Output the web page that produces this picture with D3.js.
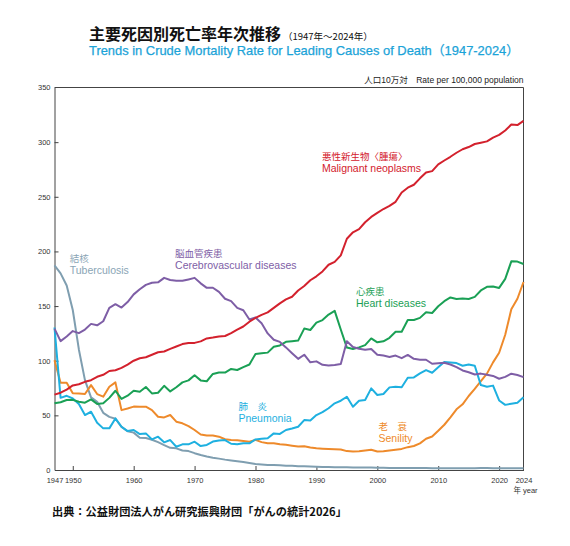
<!DOCTYPE html>
<html>
<head>
<meta charset="UTF-8"/>
<title>主要死因別死亡率年次推移</title>
<script src="https://d3js.org/d3.v7.min.js"></script>
<style>
body { margin: 0; background: #fff; }
svg { font-family: "Liberation Sans", Arial, "Noto Sans CJK JP", sans-serif; }
.jp { font-family: "Noto Sans CJK JP", sans-serif; }
</style>
</head>
<body>
<div id="chart"></div>
<script>

// DATA (rate per 100,000 population), one value per year 1947..2024
var firstYear = 1947, lastYear = 2024;
var years = d3.range(firstYear, lastYear + 1);

var malignant = [69.0, 70.7, 73.6, 77.4, 78.5, 80.7, 82.2, 85.3, 87.1, 90.6,
  91.3, 93.5, 96.5, 100.0, 102.3, 103.2, 105.5, 107.7, 108.4, 110.8,
  113.0, 115.2, 116.3, 116.3, 117.7, 120.4, 121.2, 122.2, 122.6, 125.3,
  128.4, 131.3, 135.7, 139.1, 142.0, 144.2, 148.3, 152.5, 156.1, 158.5,
  164.2, 168.4, 173.6, 177.2, 181.7, 187.8, 190.4, 196.4, 211.6, 217.5,
  220.4, 226.7, 231.6, 235.2, 238.8, 241.7, 245.4, 253.9, 258.3, 261.0,
  266.9, 272.3, 273.5, 279.7, 283.2, 286.6, 290.3, 293.5, 295.5, 298.3,
  299.5, 300.7, 304.2, 306.6, 310.7, 316.1, 315.6, 319.5];

var cerebro = [129.4, 117.9, 122.2, 127.1, 125.2, 128.5, 133.7, 132.4, 136.1, 148.4,
  151.7, 148.6, 153.7, 160.7, 165.4, 169.4, 171.4, 171.7, 175.8, 173.8,
  173.1, 173.1, 174.4, 175.8, 170.8, 166.7, 166.8, 163.0, 156.7, 154.5,
  148.4, 146.2, 137.7, 139.5, 134.3, 125.0, 119.2, 117.2, 112.2, 106.9,
  101.7, 105.5, 98.5, 99.4, 96.2, 95.6, 96.0, 96.9, 117.9, 112.6,
  111.0, 110.0, 110.8, 105.5, 104.7, 103.4, 104.7, 102.3, 105.3, 101.7,
  100.8, 100.9, 97.2, 97.7, 98.2, 96.5, 94.1, 91.1, 89.4, 87.4,
  88.2, 87.1, 86.1, 83.5, 85.2, 88.1, 86.9, 85.0];

var heart = [61.0, 62.0, 64.0, 64.2, 62.5, 61.6, 64.6, 60.5, 61.0, 66.0,
  72.5, 65.0, 68.0, 72.5, 71.6, 76.0, 70.1, 70.7, 77.0, 71.9,
  75.7, 80.2, 82.0, 86.7, 82.0, 81.2, 87.9, 89.2, 89.2, 92.5,
  91.5, 94.1, 96.5, 106.2, 106.9, 107.4, 112.7, 114.0, 117.3, 117.9,
  118.4, 129.4, 128.1, 134.8, 137.2, 142.2, 145.6, 128.6, 112.0, 110.8,
  112.2, 114.3, 120.4, 116.8, 117.8, 121.0, 126.5, 126.5, 137.2, 137.2,
  139.2, 144.4, 143.7, 149.8, 154.5, 157.9, 156.5, 157.0, 156.5, 158.4,
  164.3, 167.6, 167.9, 166.6, 174.9, 190.9, 190.7, 188.5];

var pneumonia = [130.4, 66.0, 67.9, 65.5, 60.3, 50.3, 53.3, 43.3, 38.1, 38.1,
  47.2, 39.6, 35.6, 36.6, 32.9, 33.5, 28.0, 30.5, 25.3, 27.4,
  21.3, 23.5, 23.5, 25.9, 21.9, 22.9, 26.0, 27.0, 27.4, 24.0,
  23.5, 24.5, 24.4, 28.0, 28.5, 29.0, 33.5, 33.0, 36.6, 38.0,
  39.6, 45.7, 45.2, 50.3, 53.0, 56.5, 61.0, 63.4, 67.0, 57.9,
  63.4, 64.0, 74.7, 68.6, 69.5, 75.6, 76.2, 75.7, 84.4, 84.7,
  88.4, 91.4, 89.0, 94.1, 98.9, 98.4, 97.8, 95.4, 96.5, 95.4,
  77.7, 76.2, 77.2, 63.6, 59.6, 60.7, 61.5, 66.5];

var senility = [100.5, 79.8, 79.8, 70.2, 70.0, 69.5, 77.7, 69.5, 67.1, 76.2,
  80.2, 54.8, 56.3, 58.0, 57.9, 57.9, 54.8, 48.7, 48.1, 50.3,
  44.2, 42.7, 40.2, 36.6, 32.5, 31.5, 31.5, 30.5, 28.1, 27.5,
  27.2, 26.5, 25.9, 27.6, 25.5, 24.4, 24.5, 23.5, 23.0, 22.2,
  21.5, 21.8, 20.5, 19.9, 19.5, 19.2, 19.0, 18.8, 17.3, 17.0,
  17.2, 17.8, 18.5, 16.9, 17.2, 17.8, 18.5, 19.3, 20.9, 22.0,
  24.4, 28.6, 30.7, 35.9, 41.4, 48.2, 55.5, 60.1, 67.7, 74.2,
  81.3, 88.2, 98.5, 107.3, 123.8, 147.1, 156.7, 172.0];

var tuberculosis = [187.2, 179.9, 168.8, 146.4, 110.3, 82.2, 66.5, 62.4, 52.3, 48.6,
  46.9, 39.5, 35.4, 34.2, 29.6, 29.3, 27.7, 25.5, 22.8, 20.3,
  19.8, 17.8, 17.3, 15.4, 13.7, 12.4, 11.3, 10.4, 9.5, 8.8,
  8.1, 7.4, 6.5, 5.5, 5.1, 4.6, 4.5, 4.4, 4.0, 3.8,
  3.5, 3.4, 3.2, 3.0, 2.8, 2.8, 2.6, 2.6, 2.6, 2.3,
  2.2, 2.2, 2.3, 2.1, 2.0, 1.8, 1.9, 1.8, 1.8, 1.8,
  1.8, 1.8, 1.7, 1.7, 1.7, 1.7, 1.7, 1.7, 1.5, 1.5,
  1.8, 1.8, 1.7, 1.5, 1.5, 1.5, 1.7, 1.6];

var yTicks = [0, 50, 100, 150, 200, 250, 300, 350];
var xTicks = [1947, 1950, 1960, 1970, 1980, 1990, 2000, 2010, 2020, 2024];

// series: values, colour, label (jp / en) and where the label sits
var series = [
  {values: tuberculosis, color: "#7f9eb0", jp: "結核", en: "Tuberculosis", lx: 1949.5, ly: 190, textColor: "#8aa5b5"},
  {values: senility, color: "#ee8a2b", jp: "老　衰", en: "Senility", lx: 2000.2, ly: 37, textColor: "#ee8a2b"},
  {values: pneumonia, color: "#1eb0e0", jp: "肺　炎", en: "Pneumonia", lx: 1977.2, ly: 54.5, textColor: "#1eb0e0"},
  {values: heart, color: "#1aa055", jp: "心疾患", en: "Heart diseases", lx: 1996.5, ly: 160, textColor: "#1aa055"},
  {values: cerebro, color: "#7e5ea6", jp: "脳血管疾患", en: "Cerebrovascular diseases", lx: 1966.8, ly: 195, textColor: "#7e5ea6"},
  {values: malignant, color: "#d3212d", jp: "悪性新生物〈腫瘍〉", en: "Malignant neoplasms", lx: 1990.9, ly: 284, textColor: "#d3212d"}
];

// MAIN
var svg = d3.select("#chart").append("svg")
    .attr("width", 570)
    .attr("height", 546);

var x = d3.scaleLinear().domain([firstYear, lastYear]).range([54.5, 523.5]);
var y = d3.scaleLinear().domain([0, 350]).range([470, 87.5]);

// titles
var title = svg.append("text")
    .attr("class", "jp")
    .attr("x", 89).attr("y", 40)
    .attr("fill", "#111");
title.append("tspan").attr("font-size", 16).attr("font-weight", "bold").text("主要死因別死亡率年次推移");
title.append("tspan").attr("font-size", 9.5).attr("dx", 2).text("（1947年～2024年）");

svg.append("text")
    .attr("x", 89).attr("y", 55)
    .attr("font-size", 12.9)
    .attr("fill", "#1ba3d8")
    .attr("stroke", "#1ba3d8")
    .attr("stroke-width", 0.25)
    .text("Trends in Crude Mortality Rate for Leading Causes of Death（1947-2024）");

svg.append("text")
    .attr("x", 523.5).attr("y", 83)
    .attr("text-anchor", "end")
    .attr("font-size", 8.5)
    .attr("fill", "#222")
    .text("人口10万対　Rate per 100,000 population");

// frame top + right
svg.append("line")
    .attr("x1", x(firstYear)).attr("x2", x(lastYear))
    .attr("y1", y(350)).attr("y2", y(350))
    .attr("stroke", "#444").attr("stroke-width", 1);
svg.append("line")
    .attr("x1", x(lastYear)).attr("x2", x(lastYear))
    .attr("y1", y(350)).attr("y2", y(0))
    .attr("stroke", "#444").attr("stroke-width", 1);

// axes
var yAxis = svg.append("g")
    .attr("transform", "translate(" + x(firstYear) + ",0)")
    .call(d3.axisLeft(y).tickValues(yTicks).tickSizeInner(-4).tickSizeOuter(0).tickPadding(4));
var xAxis = svg.append("g")
    .attr("transform", "translate(0," + y(0) + ")")
    .call(d3.axisBottom(x).tickValues(xTicks).tickFormat(d3.format("d")).tickSizeInner(-4).tickSizeOuter(0).tickPadding(8));

[yAxis, xAxis].forEach(function(g) {
  g.select(".domain").attr("stroke", "#444");
  g.selectAll(".tick line").attr("stroke", "#444");
  g.selectAll(".tick text").attr("fill", "#333").attr("font-size", 7.5)
    .attr("font-family", "Liberation Sans, Arial, sans-serif");
});
yAxis.selectAll(".tick line").filter(function(d) { return d === 0 || d === 350; }).remove();
xAxis.selectAll(".tick line").filter(function(d) { return d === firstYear || d === lastYear; }).remove();

svg.append("text")
    .attr("x", x(lastYear) + 2).attr("y", y(0) + 23)
    .attr("text-anchor", "middle")
    .attr("font-size", 7.5)
    .attr("fill", "#333")
    .text("年 year");

// lines
var line = d3.line()
    .x(function(d, i) { return x(years[i]); })
    .y(function(d) { return y(d); });

for (var i = 0; i < series.length; i++) {
  var s = series[i];
  svg.append("path")
      .attr("d", line(s.values))
      .attr("fill", "none")
      .attr("stroke", s.color)
      .attr("stroke-width", 2)
      .attr("stroke-linejoin", "round");

  svg.append("text")
      .attr("class", "jp")
      .attr("x", x(s.lx)).attr("y", y(s.ly))
      .attr("font-size", 9.5)
      .attr("fill", s.textColor)
      .text(s.jp);
  svg.append("text")
      .attr("x", x(s.lx)).attr("y", y(s.ly) + 12)
      .attr("font-size", 10.5)
      .attr("fill", s.textColor)
      .text(s.en);
}

// source
svg.append("text")
    .attr("class", "jp")
    .attr("x", 52).attr("y", 516)
    .attr("font-size", 11.2)
    .attr("font-weight", "bold")
    .attr("fill", "#111")
    .text("出典：公益財団法人がん研究振興財団「がんの統計2026」");
</script>
</body>
</html>
